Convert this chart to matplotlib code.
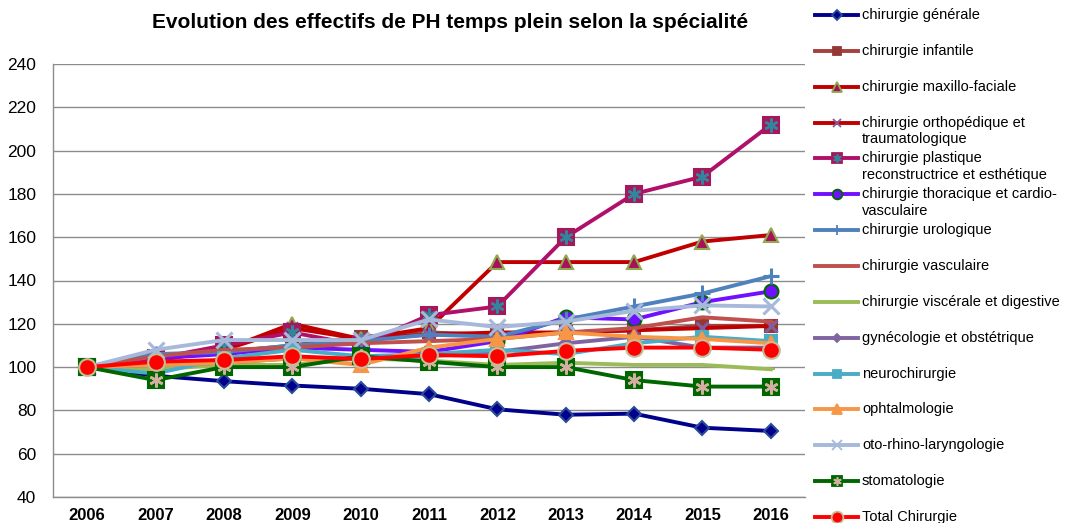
import matplotlib
matplotlib.use("Agg")
import matplotlib.pyplot as plt
from matplotlib.lines import Line2D

plt.rcParams['font.family'] = ['Liberation Sans', 'DejaVu Sans']

years = ['2006', '2007', '2008', '2009', '2010', '2011', '2012', '2013', '2014', '2015', '2016']

generale     = [100, 96, 93.5, 91.5, 90, 87.5, 80.5, 78, 78.5, 72, 70.5]
infantile    = [100, 104, 107, 110, 114, 116, 115, 116, 117, 119, 119]
maxillo      = [100, 104, 108, 120, 113, 118, 148.5, 148.5, 148.5, 158, 161]
ortho        = [100, 103, 108, 118, 113, 115, 116, 116, 117, 118, 119]
plastique    = [100, 104, 110, 116, 110, 124, 128, 160, 180, 188, 212]
thoracique   = [100, 104, 106, 109, 108, 107, 112, 123, 122, 130, 135]
urologique   = [100, 106, 107, 110, 112, 115, 114, 122, 128, 134, 142]
vasculaire   = [100, 105, 108, 109, 111, 112, 113, 116, 118, 123, 121]
viscerale    = [100, 99, 101, 101, 104, 103, 101, 102, 101, 101, 99]
gyneco       = [100, 101, 102, 104, 104, 105, 107, 111, 114, 109, 109]
neuro        = [100, 97, 104, 108, 105, 106, 108, 106, 111, 114, 112]
ophtalmo     = [100, 101, 102, 104, 101, 109, 113, 116, 114, 113, 111]
orl          = [100, 108, 112.5, 112.5, 112.5, 122, 118.5, 121, 126, 128.5, 128]
stomato      = [100, 94, 100, 100, 105, 102.5, 100, 100, 94, 91, 91]
total        = [100, 102.5, 103.3, 105, 103.7, 105.6, 105, 107.5, 109, 109, 108]

labels = ['chirurgie générale', 'chirurgie infantile', 'chirurgie maxillo-faciale',
          'chirurgie orthopédique et\ntraumatologique',
          'chirurgie plastique\nreconstructrice et esthétique',
          'chirurgie thoracique et cardio-\nvasculaire',
          'chirurgie urologique', 'chirurgie vasculaire',
          'chirurgie viscérale et digestive', 'gynécologie et obstétrique',
          'neurochirurgie', 'ophtalmologie', 'oto-rhino-laryngologie',
          'stomatologie', 'Total Chirurgie']
series = [generale, infantile, maxillo, ortho, plastique, thoracique, urologique,
          vasculaire, viscerale, gyneco, neuro, ophtalmo, orl, stomato, total]

# style: line color, marker, marker size, face, edge, overlay marker color
styles = [
    dict(color='#00008B', marker='D', ms=7, mfc='#00008B', mec='#2A4B9B', ov=None),
    dict(color='#A5403C', marker='s', ms=9, mfc='#953735', mec='#953735', ov=None),
    dict(color='#C00000', marker='^', ms=10, mfc='#A8105A', mec='#8FAA50', ov=None),
    dict(color='#C00000', marker='x', ms=8, mfc='#7F5FA0', mec='#7F5FA0', ov=None),
    dict(color='#B0106A', marker='s', ms=11, mfc='#A3195B', mec='#A3195B', ov='#31859C'),
    dict(color='#7010FF', marker='o', ms=10, mfc='#7010FF', mec='#006600', ov=None),
    dict(color='#4F81BD', marker='+', ms=11, mfc='#4F81BD', mec='#4F81BD', ov=None),
    dict(color='#C0504D', marker='_', ms=6, mfc='#C0504D', mec='#C0504D', ov=None),
    dict(color='#9BBB59', marker='_', ms=6, mfc='#9BBB59', mec='#9BBB59', ov=None),
    dict(color='#8064A2', marker='D', ms=6, mfc='#8064A2', mec='#8064A2', ov=None),
    dict(color='#4BACC6', marker='s', ms=9, mfc='#4BACC6', mec='#4BACC6', ov=None),
    dict(color='#F79646', marker='^', ms=10, mfc='#F79646', mec='#F79646', ov=None),
    dict(color='#A7B9DA', marker='x', ms=11, mfc='#A7B9DA', mec='#A7B9DA', ov=None),
    dict(color='#006600', marker='s', ms=11, mfc='#006600', mec='#006600', ov='#D2AFA0'),
    dict(color='#FF0000', marker='o', ms=12, mfc='#FF0000', mec='#C4BD97', ov=None),
]

fig = plt.figure(figsize=(10.65, 5.23), dpi=100)
ax = fig.add_axes([53 / 1065, 1 - 497 / 523, (805 - 53) / 1065, (497 - 64) / 523])

x = list(range(len(years)))
for vals, st in zip(series, styles):
    ax.plot(x, vals, color=st['color'], lw=2.8, marker=st['marker'], ms=st['ms'],
            mfc=st['mfc'], mec=st['mec'], mew=1.5 if st['marker'] not in ('x', '+') else 2.2,
            solid_joinstyle='round', zorder=3)
    if st['ov']:
        ax.plot(x, vals, ls='none', marker=(6, 2, 0), ms=st['ms'] - 1, mec=st['ov'],
                mew=1.8, zorder=3)

ax.set_xlim(-0.5, len(years) - 0.5)
ax.set_ylim(40, 240)
ax.set_yticks(range(40, 241, 20))
ax.set_xticks(x)
ax.set_xticklabels(years, fontsize=12, fontweight='bold')
ax.tick_params(axis='y', labelsize=12.5, length=0, pad=12)
ax.tick_params(axis='x', length=0, pad=8)
ax.grid(axis='y', color='#8C8C8C', lw=1.0)
ax.set_axisbelow(True)
for s in ('top', 'right'):
    ax.spines[s].set_visible(False)
for s in ('left', 'bottom'):
    ax.spines[s].set_color('#8C8C8C')
    ax.spines[s].set_linewidth(1.0)

fig.text(450 / 1065, 1 - 22 / 523, 'Evolution des effectifs de PH temps plein selon la spécialité',
         ha='center', va='center', fontsize=15, fontweight='bold')

# manual legend (Excel-style: marker aligned on first text line)
W, H = 1065, 523
for i, (lab, st) in enumerate(zip(labels, styles)):
    yp = 15 + i * 35.86
    yf = 1 - yp / H
    fig.add_artist(Line2D([815 / W, 858 / W], [yf, yf], color=st['color'], lw=2.8))
    fig.add_artist(Line2D([836.5 / W], [yf], ls='none', marker=st['marker'], ms=st['ms'] * 0.7,
                          mfc=st['mfc'], mec=st['mec'], mew=1.3))
    if st['ov']:
        fig.add_artist(Line2D([836.5 / W], [yf], ls='none', marker=(6, 2, 0),
                              ms=st['ms'] * 0.55, mec=st['ov'], mew=1.2))
    for k, line in enumerate(lab.split('\n')):
        fig.text(862 / W, 1 - (yp + k * 16.5) / H, line, ha='left', va='center', fontsize=10.5)

fig.savefig('out.png', dpi=100)
